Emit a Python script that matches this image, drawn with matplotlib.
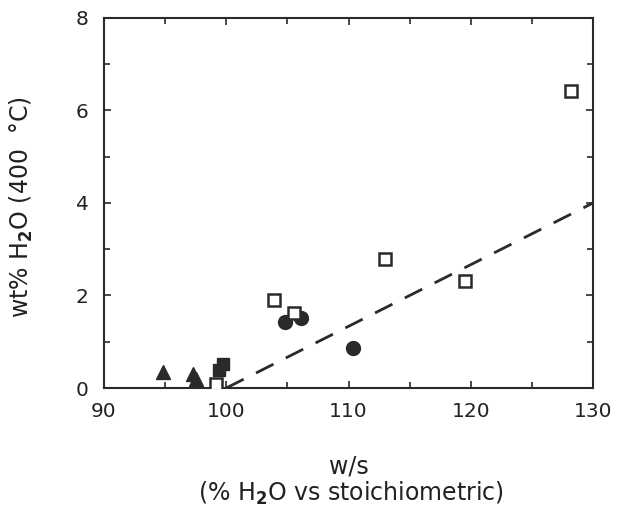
import matplotlib
matplotlib.use("Agg")
import matplotlib.pyplot as plt
from matplotlib.ticker import MultipleLocator

plt.rcParams['font.family'] = ['DejaVu Sans']
plt.rcParams['mathtext.fontset'] = 'dejavusans'

# data
open_sq_x = [99.2, 103.9, 105.5, 113.0, 119.5, 128.2]
open_sq_y = [0.09, 1.90, 1.62, 2.78, 2.31, 6.42]
circle_x = [104.8, 106.1, 110.4]
circle_y = [1.43, 1.51, 0.87]
tri_x = [94.8, 97.3, 97.5]
tri_y = [0.35, 0.30, 0.19]
fsq_x = [99.4, 99.75]
fsq_y = [0.39, 0.52]
fit_x = [100, 130]
fit_y = [0.0, 4.0]

ink = '#2a2a2a'
fig = plt.figure(figsize=(6.17, 5.11), dpi=100)
ax = fig.add_axes([0.1686, 0.2407, 0.7925, 0.7241])

ax.plot(fit_x, fit_y, color=ink, lw=2, dashes=(7, 5), zorder=2)
ax.plot(tri_x, tri_y, '^', color=ink, ms=10, ls='none', zorder=3)
ax.plot(fsq_x, fsq_y, 's', color=ink, ms=9, ls='none', zorder=3)
ax.plot(circle_x, circle_y, 'o', color=ink, ms=10, ls='none', zorder=3)
ax.plot(open_sq_x, open_sq_y, 's', mfc='white', mec=ink, mew=1.8, ms=9, ls='none', zorder=4)

ax.set_xlim(90, 130)
ax.set_ylim(0, 8)
ax.xaxis.set_major_locator(MultipleLocator(10))
ax.xaxis.set_minor_locator(MultipleLocator(5))
ax.yaxis.set_major_locator(MultipleLocator(2))
ax.yaxis.set_minor_locator(MultipleLocator(1))
ax.tick_params(which='both', direction='in', top=True, right=True, width=1.2, colors=ink, labelcolor='#222222')
ax.tick_params(which='major', length=5, labelsize=14.5)
ax.tick_params(axis='x', which='major', pad=10)
ax.tick_params(axis='y', which='major', pad=11)
ax.tick_params(which='minor', length=4)
for s in ax.spines.values():
    s.set_linewidth(1.5)
    s.set_color(ink)

ax.set_ylabel('wt% H$_\\mathbf{2}$O (400  °C)', fontsize=17, color='#222222')
ax.yaxis.set_label_coords(-0.141, 0.49)

fig.text(0.565, 1 - 466 / 511, 'w/s', fontsize=17, ha='center', va='center', color='#222222')
fig.text(0.569, 1 - 493 / 511, '(% H$_\\mathbf{2}$O vs stoichiometric)', fontsize=17,
         ha='center', va='center', color='#222222')

fig.savefig('out.png', dpi=100)
